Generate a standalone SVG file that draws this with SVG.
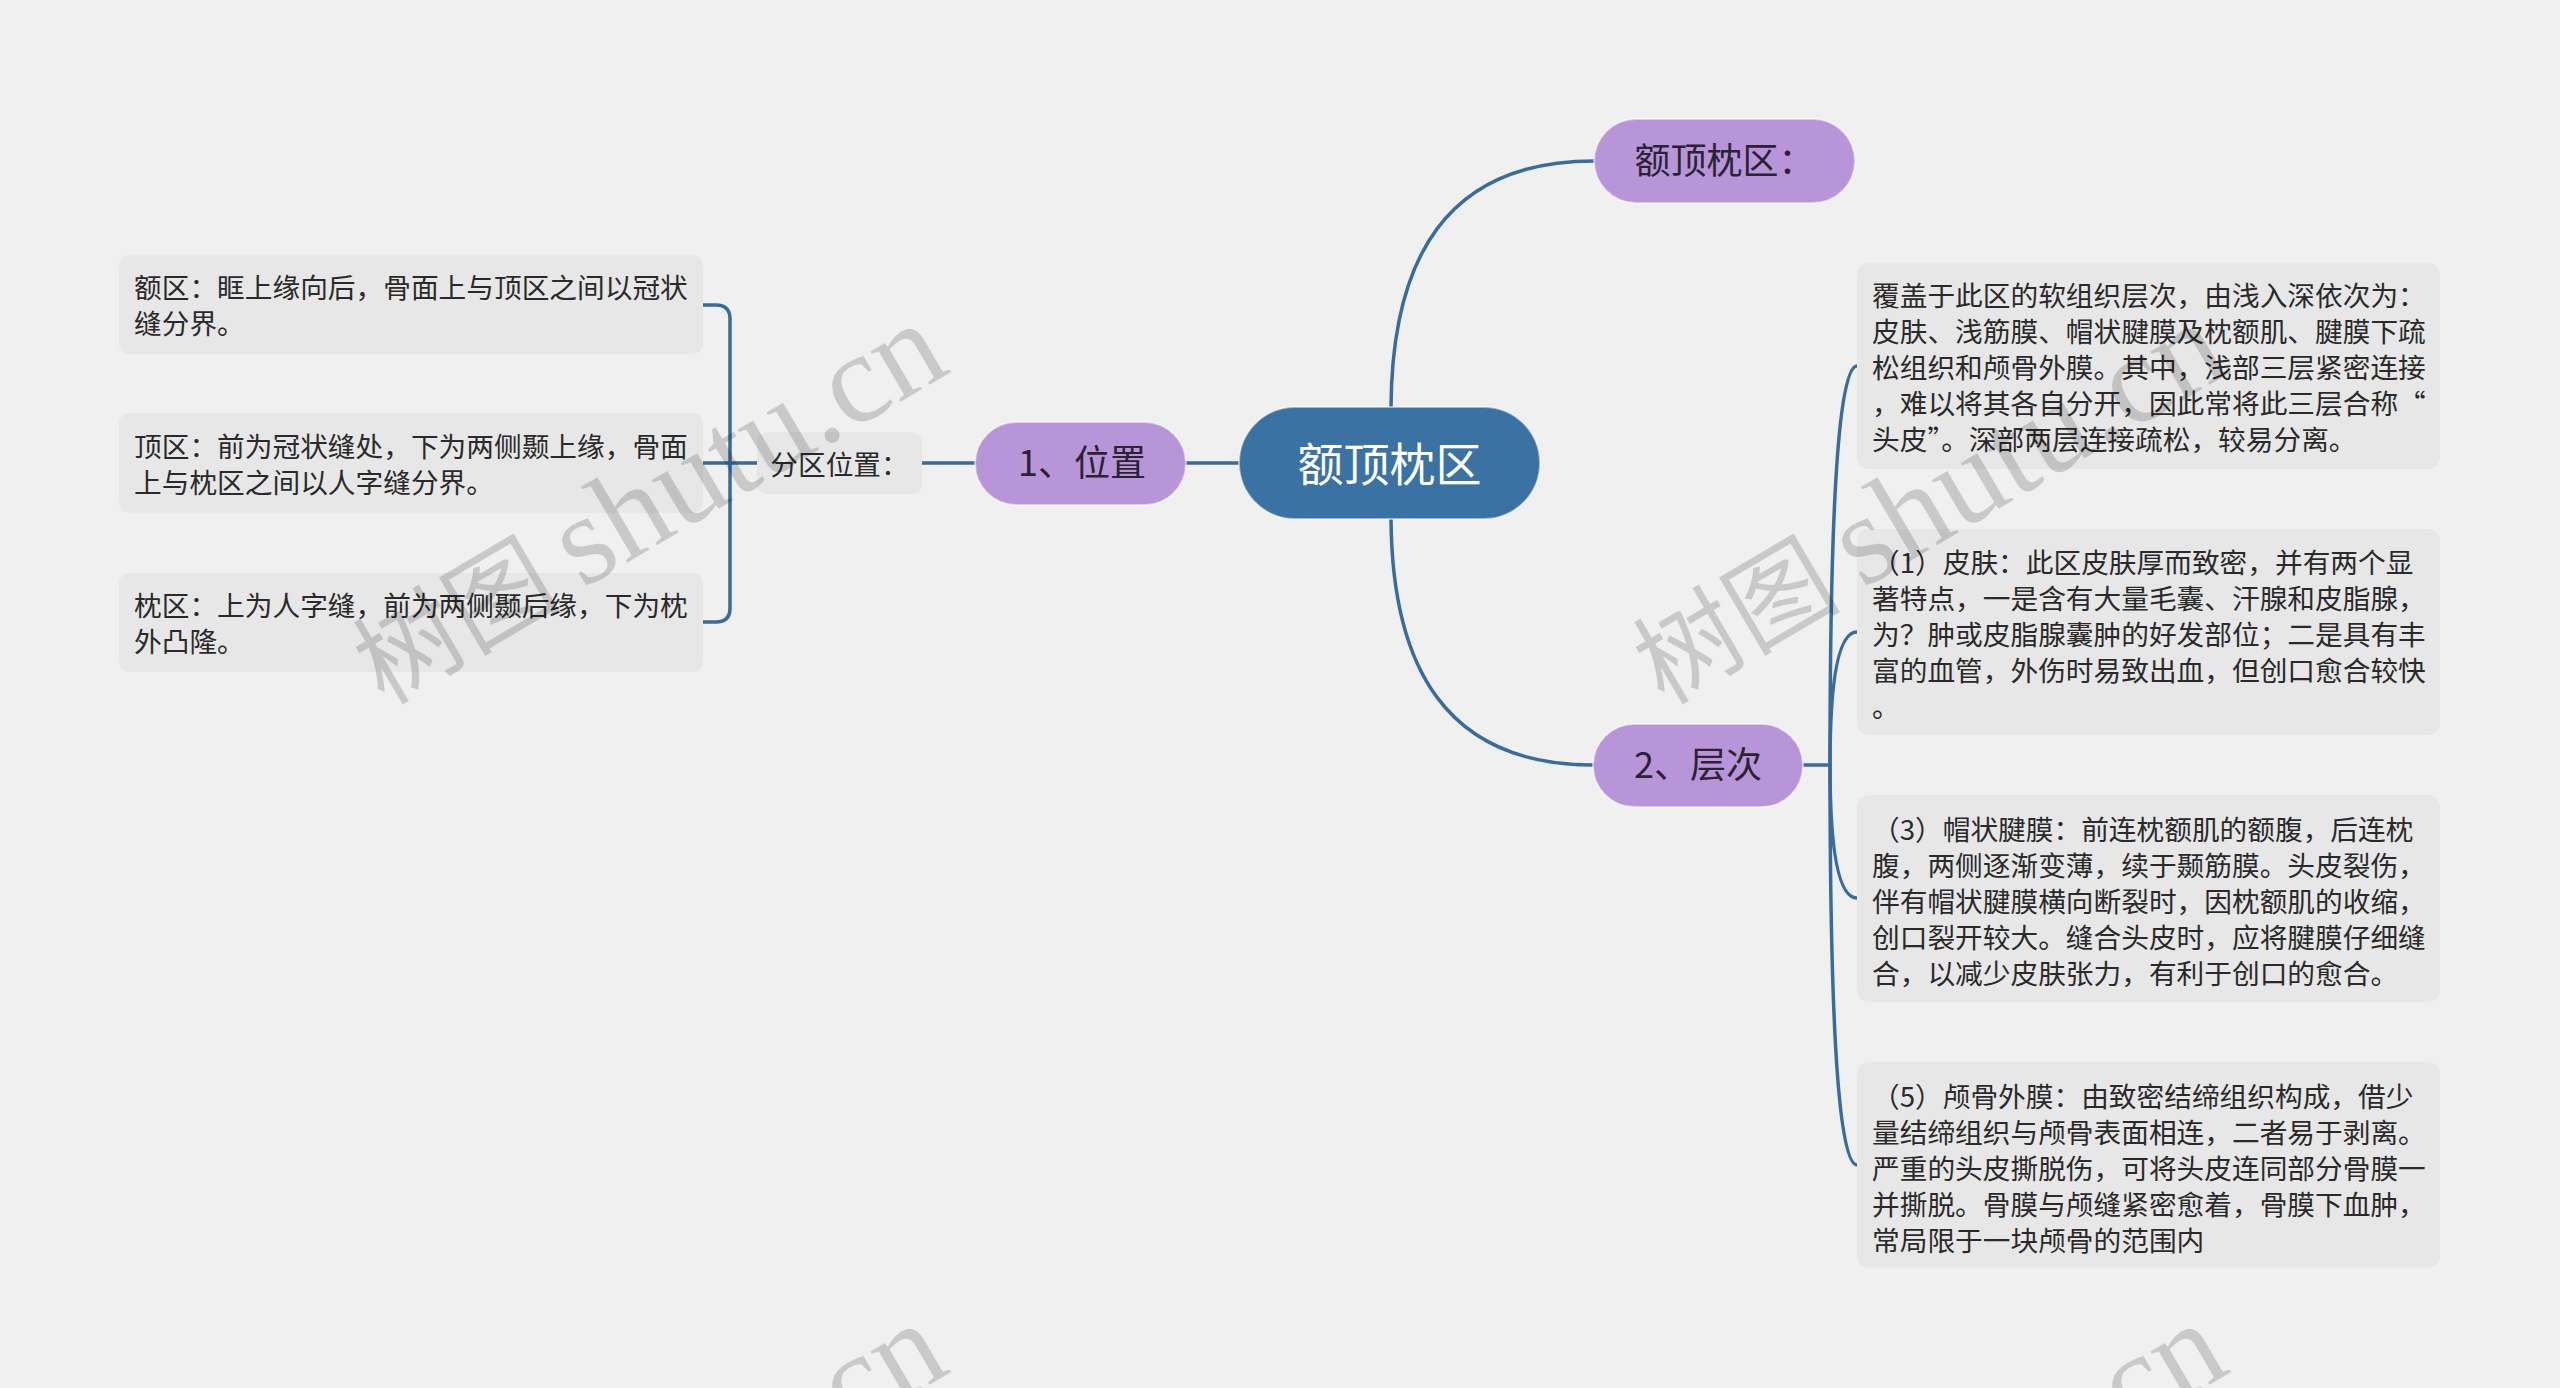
<svg xmlns="http://www.w3.org/2000/svg" width="2560" height="1388" viewBox="0 0 2560 1388">
<style>
.bg{fill:#f0f0f0}
.conn{fill:none;stroke:#396c9c;stroke-width:3.5;stroke-linecap:round}
.root{fill:#3b72a4;stroke:#ffffff;stroke-opacity:.5;stroke-width:2}
.main{fill:#b795d8;stroke:#ffffff;stroke-opacity:.5;stroke-width:2}
.box{fill:#e7e7e7}
.t{font-family:"Noto Sans CJK SC","Noto Sans",sans-serif;fill:#2a2a2a}
.tb{font-size:27.7px}
.tm{font-size:36px;fill:#2b2233}
.tr{font-size:46px;fill:#ffffff}
.wm{fill:#000;fill-opacity:.16}
</style>
<defs>
<g id="wmark">
<text transform="translate(384,706) rotate(-30.5)" class="wm"><tspan font-family="'Noto Sans CJK SC',sans-serif" font-size="104">树图</tspan><tspan font-family="'Liberation Serif',serif" font-size="128" dx="22">shutu.cn</tspan></text>
</g>
</defs>
<rect class="bg" x="0" y="0" width="2560" height="1388"/>

<g id="connectors">
<path class="conn" d="M1186,463 H1239"/>
<path class="conn" d="M922,463 H975"/>
<path class="conn" d="M757,463 H703"/>
<path class="conn" d="M703,305 H716 Q730,305 730,319 V608 Q730,622 716,622 H703"/>
<path class="conn" d="M1391,407 C1392,260 1445,161 1594,161"/>
<path class="conn" d="M1391,519 C1392,666 1445,765 1593,765"/>
<path class="conn" d="M1803,765 H1830"/>
<path class="conn" d="M1830,765 Q1830,366 1857,366"/>
<path class="conn" d="M1830,765 Q1830,632 1857,632"/>
<path class="conn" d="M1830,765 Q1830,898 1857,898"/>
<path class="conn" d="M1830,765 Q1830,1165 1857,1165"/>
</g>

<g id="root">
<rect class="root" x="1239" y="407" width="301" height="112" rx="56"/>
<text class="t tr" x="1389.5" y="480.5" text-anchor="middle">额顶枕区</text>
</g>

<g id="n-pos">
<rect class="main" x="975" y="422" width="211" height="83" rx="41.5"/>
<text class="t tm" x="1082" y="476" text-anchor="middle">1、位置</text>
</g>

<g id="n-title">
<rect class="main" x="1594" y="119" width="261" height="84" rx="42"/>
<text class="t tm" x="1724.5" y="174" text-anchor="middle">额顶枕区：</text>
</g>

<g id="n-layer">
<rect class="main" x="1593" y="724" width="210" height="83" rx="41.5"/>
<text class="t tm" x="1698" y="777.5" text-anchor="middle">2、层次</text>
</g>

<g id="n-fenqu">
<rect class="box" x="757" y="432" width="165" height="62" rx="10"/>
<text class="t tb" x="839.5" y="475" text-anchor="middle">分区位置：</text>
</g>

<g id="n-equ">
<rect class="box" x="119" y="255" width="584" height="99" rx="10"/>
<text class="t tb"><tspan x="134" y="297.5">额区：眶上缘向后，骨面上与顶区之间以冠状</tspan><tspan x="134" y="333.5">缝分界。</tspan></text>
</g>

<g id="n-dingqu">
<rect class="box" x="119" y="413" width="584" height="100" rx="10"/>
<text class="t tb"><tspan x="134" y="456.5">顶区：前为冠状缝处，下为两侧颞上缘，骨面</tspan><tspan x="134" y="492.5">上与枕区之间以人字缝分界。</tspan></text>
</g>

<g id="n-zhenqu">
<rect class="box" x="119" y="573" width="584" height="99" rx="10"/>
<text class="t tb"><tspan x="134" y="616">枕区：上为人字缝，前为两侧颞后缘，下为枕</tspan><tspan x="134" y="652">外凸隆。</tspan></text>
</g>

<g id="n-cover">
<rect class="box" x="1857" y="263" width="583" height="206" rx="12"/>
<text class="t tb"><tspan x="1872" y="305.5">覆盖于此区的软组织层次，由浅入深依次为：</tspan><tspan x="1872" y="341.5">皮肤、浅筋膜、帽状腱膜及枕额肌、腱膜下疏</tspan><tspan x="1872" y="377.5">松组织和颅骨外膜。其中，浅部三层紧密连接</tspan><tspan x="1872" y="413.5">，难以将其各自分开，因此常将此三层合称“</tspan><tspan x="1872" y="449.5">头皮”。深部两层连接疏松，较易分离。</tspan></text>
</g>

<g id="n-skin">
<rect class="box" x="1857" y="529" width="583" height="206" rx="12"/>
<text class="t tb"><tspan x="1872" y="573">（1）皮肤：此区皮肤厚而致密，并有两个显</tspan><tspan x="1872" y="609">著特点，一是含有大量毛囊、汗腺和皮脂腺，</tspan><tspan x="1872" y="645">为？肿或皮脂腺囊肿的好发部位；二是具有丰</tspan><tspan x="1872" y="681">富的血管，外伤时易致出血，但创口愈合较快</tspan><tspan x="1872" y="717">。</tspan></text>
</g>

<g id="n-galea">
<rect class="box" x="1857" y="795" width="583" height="207" rx="12"/>
<text class="t tb"><tspan x="1872" y="839.5">（3）帽状腱膜：前连枕额肌的额腹，后连枕</tspan><tspan x="1872" y="875.5">腹，两侧逐渐变薄，续于颞筋膜。头皮裂伤，</tspan><tspan x="1872" y="911.5">伴有帽状腱膜横向断裂时，因枕额肌的收缩，</tspan><tspan x="1872" y="947.5">创口裂开较大。缝合头皮时，应将腱膜仔细缝</tspan><tspan x="1872" y="983.5">合，以减少皮肤张力，有利于创口的愈合。</tspan></text>
</g>

<g id="n-pericranium">
<rect class="box" x="1857" y="1062" width="583" height="206" rx="12"/>
<text class="t tb"><tspan x="1872" y="1106.5">（5）颅骨外膜：由致密结缔组织构成，借少</tspan><tspan x="1872" y="1142.5">量结缔组织与颅骨表面相连，二者易于剥离。</tspan><tspan x="1872" y="1178.5">严重的头皮撕脱伤，可将头皮连同部分骨膜一</tspan><tspan x="1872" y="1214.5">并撕脱。骨膜与颅缝紧密愈着，骨膜下血肿，</tspan><tspan x="1872" y="1250.5">常局限于一块颅骨的范围内</tspan></text>
</g>

<g id="watermarks">
<use href="#wmark"/>
<use href="#wmark" transform="translate(1280,0)"/>
<use href="#wmark" transform="translate(0,1000)"/>
<use href="#wmark" transform="translate(1280,1000)"/>
</g>
</svg>
